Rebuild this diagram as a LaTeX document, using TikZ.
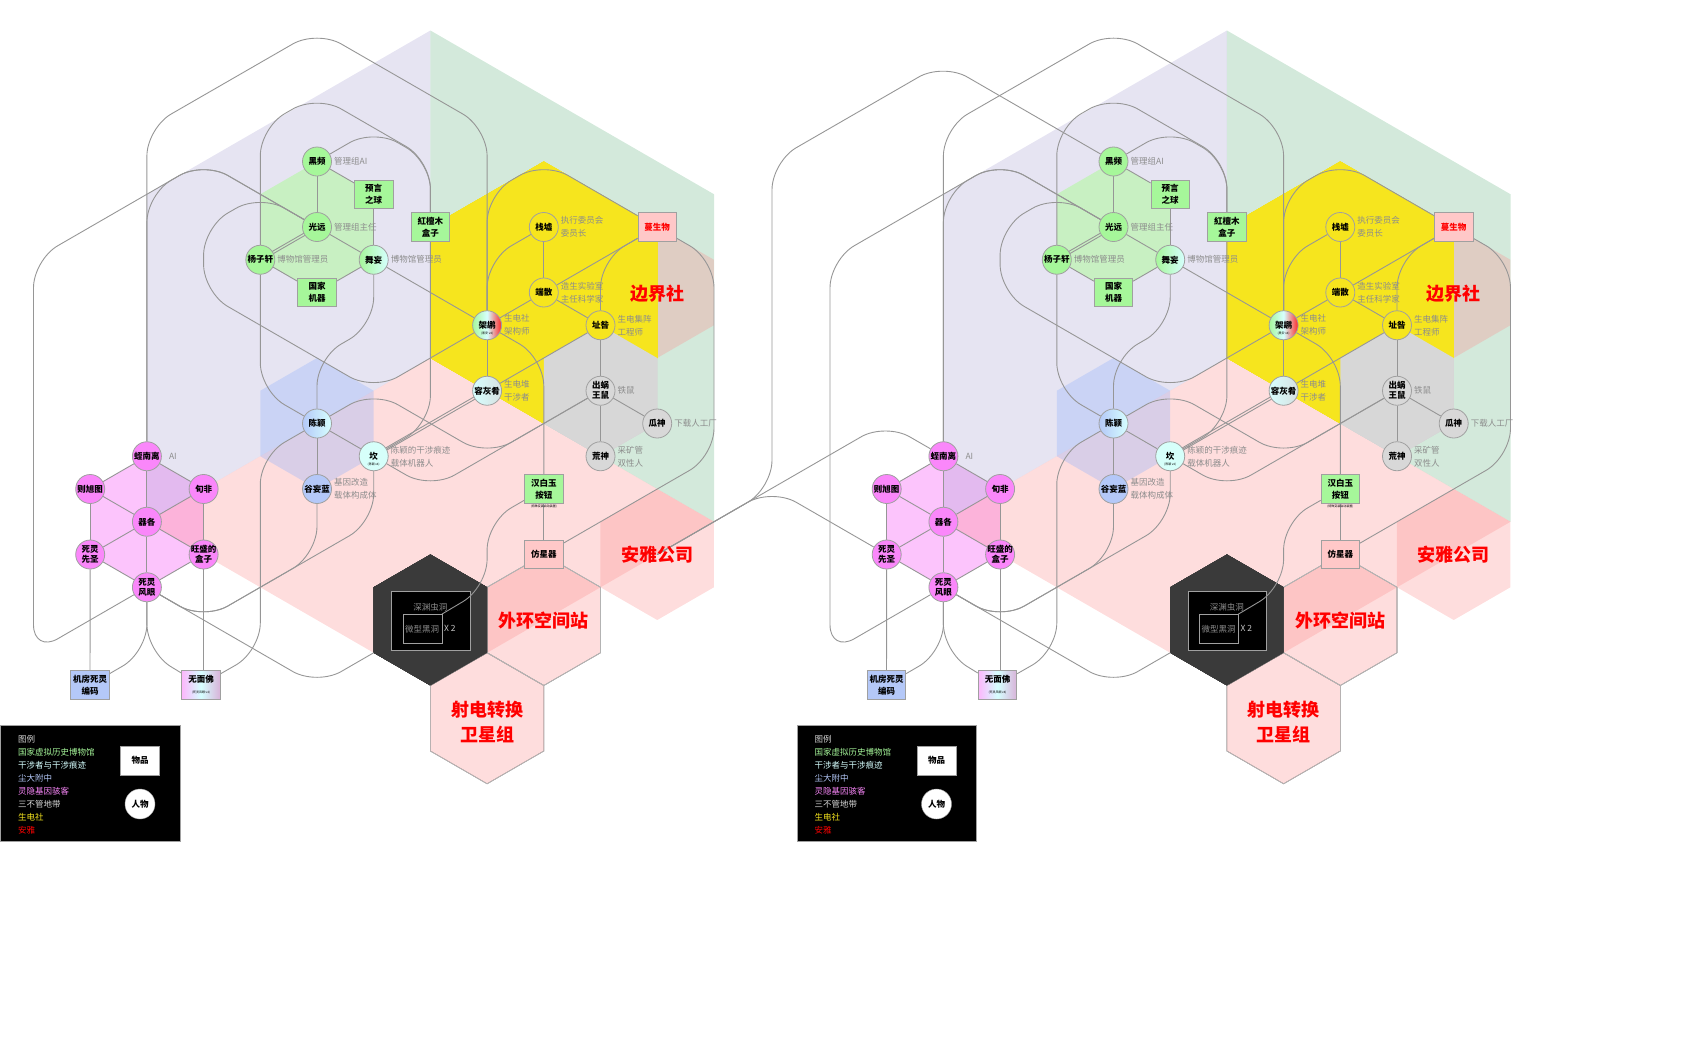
\documentclass[tikz,border=0pt]{standalone}
\usepackage{fontspec}
\setmainfont{Noto Sans CJK SC}
\usetikzlibrary{positioning, backgrounds}

\definecolor{lavbase}{RGB}{172,165,212}
\definecolor{mintbase}{RGB}{108,182,135}
\definecolor{pinkbase}{RGB}{252,142,142}
\definecolor{bluebase}{RGB}{150,180,250}
\definecolor{musegreen}{RGB}{200,240,194}
\definecolor{hackpink}{RGB}{252,196,252}
\definecolor{shengyellow}{RGB}{246,229,30}
\definecolor{zonegray}{RGB}{215,215,215}
\definecolor{holegray}{RGB}{58,58,58}
\definecolor{linegray}{RGB}{150,150,150}
\definecolor{rimgray}{RGB}{160,160,160}
\definecolor{notegray}{RGB}{140,140,140}
\definecolor{nodegreen}{RGB}{166,247,154}
\definecolor{nodemag}{RGB}{250,135,250}
\definecolor{nodegray}{RGB}{216,216,216}
\definecolor{nodeblue}{RGB}{180,200,248}
\definecolor{nodecyan}{RGB}{214,255,250}
\definecolor{nodepink}{RGB}{255,200,200}
\definecolor{lightcyan}{RGB}{214,255,255}

% pointy-top hexagon: options, centre, radius
\newcommand\hexpatch[3]{\path[#1] (#2) +(90:#3) -- +(30:#3) -- +(-30:#3)
  -- +(-90:#3) -- +(-150:#3) -- +(150:#3) -- cycle;}

\begin{document}
\begin{tikzpicture}
  [x=1pt, y=-1pt,
   person/.style={circle, draw=rimgray, line width=0.8pt, minimum size=29pt, inner sep=0pt,
     label={[align=center, inner sep=0pt, font=\fontsize{8.5}{10}\selectfont\bfseries]center:#1}},
   thing/.style={rectangle, draw=rimgray, line width=0.8pt, minimum width=38.5pt,
     minimum height=28.5pt, inner sep=1pt, align=center, font=\fontsize{8.5}{12}\selectfont\bfseries},
   note/.style={inner sep=1pt, text=notegray, align=left, font=\fontsize{8.5}{13}\selectfont},
   region/.style={text=red, align=center, font=\fontsize{18}{25}\selectfont\bfseries},
   smallprint/.style={inner sep=0pt, font=\fontsize{3}{3}\selectfont},
   link/.style={draw=linegray, line width=0.9pt},
   wire/.style={draw=linegray, line width=0.9pt, rounded corners=28pt},
   legend/.style={anchor=west, inner sep=0pt, font=\fontsize{8.5}{10}\selectfont}]
  \useasboundingbox (0,0) rectangle (1698,1042);

  \foreach \sx/\cp in {0/L, 796.5/R}{
  \begin{scope}[shift={(\sx,0)}]
    % people
    \node[person=黑频, fill=nodegreen] (hp\cp) at (317,161.5) {};
    \node[person=光远, fill=nodegreen] (gy\cp) at (317,227) {};
    \node[person=杨子轩, fill=nodegreen] (yzx\cp) at (260.3,259.75) {};
    \node[person=舞妄, left color=nodegreen, right color=lightcyan] (wm\cp) at (373.7,259.75) {};
    \node[person=栈墟, fill=shengyellow] (zx\cp) at (543.8,227) {};
    \node[person=端散, fill=shengyellow] (ds\cp) at (543.8,292.5) {};
    \node[person=架鹕, left color=nodegreen, right color=red!85, middle color=lightcyan] (jh\cp) at (487.1,325.25) {};
    \node[person=址咎, fill=shengyellow] (zj\cp) at (600.5,325.25) {};
    \node[person=容灰肴, left color=lightcyan, right color=nodegray!80!lightcyan] (rhy\cp) at (487.1,390.75) {};
    \node[person={出蜗\\王鼠}, fill=nodegray] (cw\cp) at (600.5,390.75) {};
    \node[person=瓜神, fill=nodegray] (gs\cp) at (657.2,423.5) {};
    \node[person=荒神, fill=nodegray] (hs\cp) at (600.5,456.25) {};
    \node[person=陈颖, left color=nodeblue, right color=lightcyan] (cy\cp) at (317,423.5) {};
    \node[person=坎, fill=nodecyan] (kan\cp) at (373.7,456.25) {};
    \node[person=谷妄蓝, fill=nodeblue] (gwl\cp) at (317,489) {};
    \node[person=蛭南离, fill=nodemag] (znl\cp) at (146.9,456.25) {};
    \node[person=则旭图, fill=nodemag] (zxt\cp) at (90.2,489) {};
    \node[person=旬非, fill=nodemag] (xf\cp) at (203.6,489) {};
    \node[person=器各, fill=nodemag] (qg\cp) at (146.9,521.75) {};
    \node[person={死灵\\先圣}, fill=nodemag] (slxs\cp) at (90.2,554.5) {};
    \node[person={旺盛的\\盒子}, fill=nodemag] (wsh\cp) at (203.6,554.5) {};
    \node[person={死灵\\风眼}, fill=nodemag] (slfy\cp) at (146.9,587.25) {};
    \node[smallprint] (jhs\cp) at ([yshift=-8pt]jh\cp.center) {(黑安 v4)};
    \node[smallprint] (kans\cp) at ([yshift=-8pt]kan\cp.center) {(陈颖 v4)};

    % things
    \node[thing, fill=nodegreen] (yyzq\cp) at (373.7,194.25) {预言\\之球};
    \node[thing, fill=nodegreen] (gjjq\cp) at (317,292.5) {国家\\机器};
    \node[thing, fill=nodegreen] (htm\cp) at (430.4,227) {紅檀木\\盒子};
    \node[thing, fill=nodepink, text=red] (msw\cp) at (657.2,227) {蔓生物};
    \node[thing, fill=nodegreen] (hby\cp) at (543.8,489) {汉白玉\\按钮};
    \node[smallprint, below=1.5pt of hby\cp] (hbys\cp) {(特殊变装启动装置)};
    \node[thing, fill=nodepink] (fxq\cp) at (543.8,554.5) {仿星器};
    \node[thing, fill=nodeblue] (jfsl\cp) at (90,685) {机房死灵\\编码};
    \node[thing, left color=nodemag!60, right color=violet!30, middle color=lightcyan] (wmf\cp) at (201,685)
      {无面佛\\[-1pt]{\fontsize{3}{3}\selectfont\mdseries (死灵风眼 v4)}};

    % side notes
    \foreach \nd/\tx in {hp/管理组AI, gy/管理组主任, yzx/博物馆管理员, wm/博物馆管理员,
        zx/执行委员会\\委员长, ds/造生实验室\\主任科学家, jh/生电社\\架构师, zj/生电集阵\\工程师,
        rhy/生电堆\\干涉者, cw/铁鼠, gs/下载人工厂, hs/采矿管\\双性人,
        kan/陈颖的干涉痕迹\\载体机器人, gwl/基因改造\\载体构成体}
      \node[note, right=1pt of \nd\cp] (\nd-note\cp) {\tx};
    \node[note, right=6pt of znl\cp] (znl-note\cp) {AI};

    % black hole
    \node[text=notegray, inner sep=0pt, font=\fontsize{8.5}{10}\selectfont] (sych\cp) at (430.4,607.7) {深渊虫洞};
    \node[draw=rimgray, minimum width=39pt, minimum height=29pt, inner sep=0pt, text=notegray,
      font=\fontsize{8.5}{10}\selectfont] (wxhd\cp) at (422.2,628.8) {微型黑洞};
    \node[right=2pt of wxhd\cp, inner sep=0pt, text=gray!45, font=\fontsize{8.5}{10}\selectfont] (xtwo\cp) {X 2};
    \coordinate (holesw\cp) at (373.7,652.75);

    % regions
    \node[region] (bjs\cp) at (657.2,294) {边界社};
    \node[region] (aygs\cp) at (657.2,554.5) {安雅公司};
    \node[region] (whkj\cp) at (543.8,621) {外环空间站};
    \node[region] (sdzh\cp) at (487.1,722) {射电转换\\卫星组};
    \coordinate (anya\cp) at (657.2,554.5);

    % legend
    \draw[fill=black, draw=rimgray, line width=0.8pt] (0.5,725) rectangle (180,841);
    \foreach \tx/\lc [count=\i] in {图例/nodegray, 国家虚拟历史博物馆/nodegreen, 干涉者与干涉痕迹/lightcyan,
        尘大附中/nodeblue, 灵隐基因骇客/nodemag, 三不管地带/nodegray, 生电社/shengyellow, 安雅/red}
      \node[legend, text=\lc] (lg\i\cp) at (18,726+13*\i) {\tx};
    \node[thing, fill=white, minimum width=39pt, minimum height=29pt] (lgt\cp) at (140,760.7) {物品};
    \node[circle, draw=rimgray, fill=white, minimum size=30pt, inner sep=0pt,
      font=\fontsize{8.5}{10}\selectfont\bfseries] (lgp\cp) at (140,804) {人物};

    \begin{scope}[on background layer]
      % colour fields
      \hexpatch{fill=hackpink}{146.9,521.75}{65.5}
      \fill[lavbase, fill opacity=0.3] (430.4,358) -- (146.8,521.75) -- (146.8,194.25) -- (430.4,30.5) -- cycle;
      \fill[mintbase, fill opacity=0.3] (430.4,358) -- (430.4,30.5) -- (714,194.25) -- (714,521.75) -- cycle;
      \fill[pinkbase, fill opacity=0.3] (430.4,358) -- (714,521.75) -- (430.4,685.5) -- (146.8,521.75) -- cycle;
      \hexpatch{fill=musegreen}{317,227}{65.5}
      \hexpatch{fill=bluebase, fill opacity=0.35}{317,423.5}{65.5}
      \foreach \hx/\hy in {657.2/292.5, 657.2/554.5, 543.8/620, 487.1/718.25}
        \hexpatch{fill=pinkbase, fill opacity=0.3}{\hx,\hy}{65.5}
      \foreach \hx/\hy in {543.8/620, 487.1/718.25}
        \hexpatch{draw=rimgray!80, line width=0.6pt}{\hx,\hy}{65.5}
      \hexpatch{fill=shengyellow}{543.8,292.5}{131}
      \hexpatch{fill=zonegray}{600.5,390.75}{65.5}
      \hexpatch{fill=holegray}{430.4,620}{65.5}
      \draw[fill=black, draw=rimgray, line width=0.8pt] (391.7,591.7) rectangle (470,650);

      % hex edges
      \foreach \na/\nb in {hp/gy, hp/yyzq, yyzq/wm, gy/wm, yzx/gjjq, gjjq/wm, zx/ds, ds/jh, ds/zj,
          ds/msw, jh/rhy, rhy/zj, wm/jh, zj/cw, cw/gs, cw/hs, cy/gwl, cy/kan, hby/fxq,
          qg/znl, qg/zxt, qg/xf, qg/slxs, qg/wsh, qg/slfy, znl/zxt, znl/xf, zxt/slxs,
          xf/wsh, slxs/slfy, wsh/slfy, slxs/jfsl}
        \draw[link] (\na\cp) -- (\nb\cp);
      \draw[link] (wsh\cp) -- (wsh\cp |- wmf\cp.north);
      \draw[link] ([yshift=1.4pt]gy\cp.center) -- ([yshift=1.4pt]yzx\cp.center);
      \draw[link] ([yshift=-1.4pt]gy\cp.center) -- ([yshift=-1.4pt]yzx\cp.center);
      \draw[link] ([yshift=1.4pt]rhy\cp.center) -- ([yshift=1.4pt]kan\cp.center);
      \draw[link] ([yshift=-1.4pt]rhy\cp.center) -- ([yshift=-1.4pt]kan\cp.center);

      % long wires
      \draw[wire] (znl\cp) -- (146.9,128) -- (317,30) -- (487.1,128) -- (jh\cp);
      \draw[wire] (gy\cp) -- (203.6,161.5) -- (33.5,259.75) -- (33.5,652.75) -- (slfy\cp);
      \draw[wire] (gy\cp) -- (203.6,161.5) -- (146.9,194.25) -- (znl\cp);
      \draw[wire] (yzx\cp) -- (260.3,127.75) -- (317,95) -- (430.4,160.5) -- (430.4,423.5) -- (kan\cp);
      \draw[wire] (hp\cp) -- (373.7,128.75) -- (430.4,161.5) -- (htm\cp);
      \draw[wire] (gy\cp) -- (260.3,194.25) -- (203.6,227) -- (203.6,292.5) -- (373.7,390.75) -- (jh\cp);
      \draw[wire] (wm\cp) -- (373.7,325.25) -- (317,358) -- (cy\cp);
      \draw[wire] (yzx\cp) -- (260.3,390.75) -- (cy\cp);
      \draw[wire] (msw\cp) -- (714,259.75) -- (714,456.25) -- (fxq\cp);
      \draw[wire] (cy\cp) -- (373.7,390.75) -- (487.1,456.25) -- (cw\cp);
      \draw[wire] (kan\cp) -- (430.4,489) -- (cw\cp);
      \draw[wire] (slfy\cp) -- (203.6,620) -- (373.7,521.75) -- (kan\cp);
      \draw[wire] (slfy\cp) -- (203.6,620) -- (317,554.5) -- (gwl\cp);
      \draw[wire] (slfy\cp) -- (317,685.5) -- (holesw\cp);
      \draw[wire] (cy\cp) -- (260.3,456.25) -- (260.3,651) -- (wmf\cp);
      \draw[wire] (slfy\cp) -- (146.9,652) -- (jfsl\cp);
      \draw[wire] (slfy\cp) -- (146.9,652) -- (wmf\cp);
      \draw[wire] (zj\cp) -- (600.5,259.75) -- (msw\cp);
      \draw[wire] (jh\cp) -- (487.1,194.25) -- (543.8,161.5) -- (msw\cp);
      \draw[wire] (jh\cp) -- (543.8,358) -- (hby\cp);
      \draw[wire] (hby\cp) -- (487.1,521.75) -- (487.1,587.25) -- (wxhd\cp.north east);
      \draw[wire] (zx\cp) -- (487.1,259.75) -- (jh\cp);
    \end{scope}
  \end{scope}
  }

  % from the left Anya company over to the right copy
  \begin{scope}[on background layer]
    \draw[wire] (anyaL) -- (885.4,422.8) -- (znlR);
    \draw[wire] (anyaL) -- (772,488.3) -- (slxsR);
    \draw[wire] (anyaL) -- (772,488.3) -- (772,161.7) -- (943,63) -- (hpR);
  \end{scope}
\end{tikzpicture}
\end{document}
